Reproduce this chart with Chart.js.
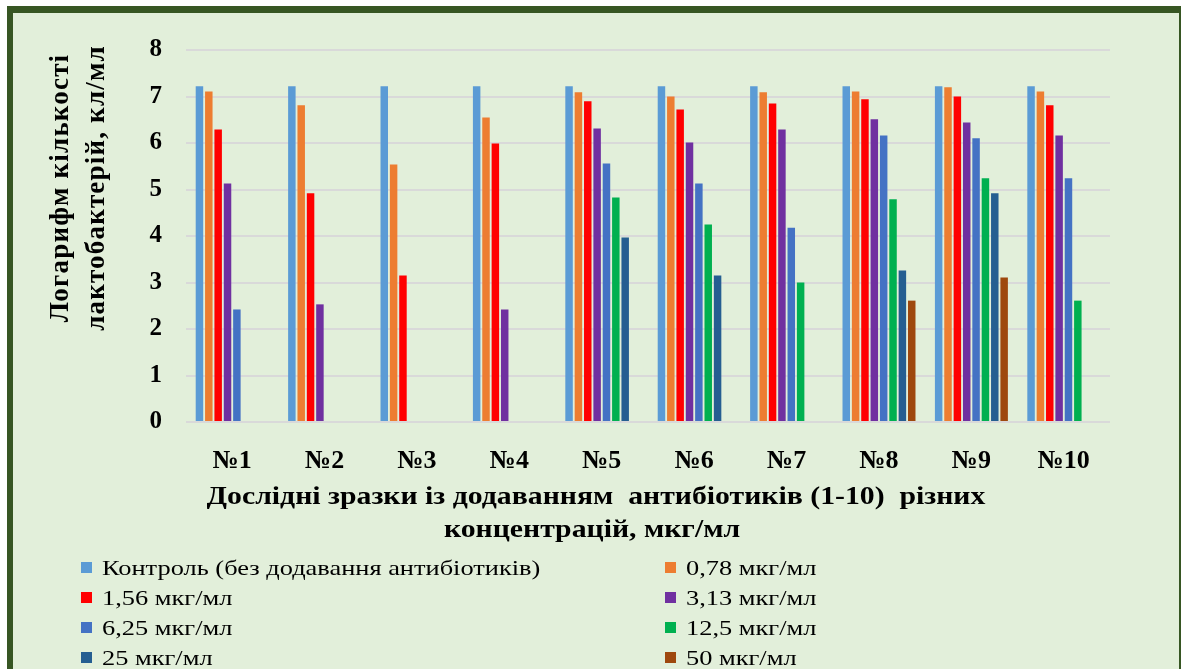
<!DOCTYPE html>
<html lang="uk">
<head>
<meta charset="utf-8">
<title>Логарифм кількості лактобактерій</title>
<script src="https://cdn.jsdelivr.net/npm/chart.js@4.4.1/dist/chart.umd.min.js"></script>
<style>
  html, body { margin: 0; padding: 0; background: #fff; }
  body { width: 1181px; height: 669px; position: relative; overflow: hidden; font-family: "Liberation Serif", "Times New Roman", serif; }
  .frame {
    position: absolute; left: 7px; top: 6px; width: 1166px; height: 700px;
    background: #E2EFDA;
    border-left: 6px solid #375623; border-top: 7px solid #375623; border-right: 2px solid #375623;
  }
  #chartBox { position: absolute; left: 0; top: 0; width: 1181px; height: 669px; }
  .ytitle {
    position: absolute; font-weight: bold; font-size: 27px; letter-spacing: 1.2px; color: #000; white-space: nowrap;
    transform: translate(-50%, -50%) rotate(-90deg);
  }
  .xtitle {
    position: absolute; font-weight: bold; font-size: 25px; color: #000; white-space: pre;
    transform: translate(-50%, -50%) scaleX(1.19);
  }
  .legend-item { position: absolute; font-size: 22px; color: #000; white-space: nowrap; height: 24px; line-height: 24px; }
  .legend-item i { position: absolute; left: 0; top: 6px; width: 11px; height: 11px; }
  .legend-item span { position: absolute; left: 21px; top: 0; transform-origin: 0 50%; transform: scaleX(1.2); }
</style>
</head>
<body>
<div class="frame"></div>
<div id="chartBox"><canvas id="bacteriaChart" width="1181" height="669"></canvas></div>

<div class="ytitle" style="left:59px; top:188px;">Логарифм кількості</div>
<div class="ytitle" style="left:95px; top:188px;">лактобактерій, кл/мл</div>

<div class="xtitle" style="left:596px; top:496px;">Дослідні зразки із додаванням  антибіотиків (1-10)  різних</div>
<div class="xtitle" style="left:592px; top:529px;">концентрацій, мкг/мл</div>

<div id="legend"></div>

<script>
// зразки №1–№10
const samples = ['№1', '№2', '№3', '№4', '№5', '№6', '№7', '№8', '№9', '№10'];
const yTicks = [0, 1, 2, 3, 4, 5, 6, 7, 8];

const seriesNames = [
    'Контроль (без додавання антибіотиків)',
    '0,78 мкг/мл',
    '1,56 мкг/мл',
    '3,13 мкг/мл',
    '6,25 мкг/мл',
    '12,5 мкг/мл',
    '25 мкг/мл',
    '50 мкг/мл'
];
const seriesColors = ['#5B9BD5', '#ED7D31', '#FF0000', '#7030A0', '#4472C4', '#00B050', '#255E91', '#9E480E'];

// lg КУО/мл для кожної концентрації (null — росту немає)
const control = [7.22, 7.22, 7.22, 7.22, 7.22, 7.22, 7.22, 7.22, 7.22, 7.22];
const conc078 = [7.11, 6.81, 5.54, 6.55, 7.09, 7.00, 7.09, 7.11, 7.20, 7.11];
const conc156 = [6.29, 4.92, 3.15, 5.99, 6.90, 6.72, 6.85, 6.94, 7.00, 6.81];
const conc313 = [5.13, 2.53, null, 2.42, 6.31, 6.01, 6.29, 6.51, 6.44, 6.16];
const conc625 = [2.42, null, null, null, 5.56, 5.13, 4.18, 6.16, 6.10, 5.24];
const conc125 = [null, null, null, null, 4.83, 4.25, 3.00, 4.79, 5.24, 2.61];
const conc25  = [null, null, null, null, 3.97, 3.15, null, 3.26, 4.92, null];
const conc50  = [null, null, null, null, null, null, null, 2.61, 3.11, null];

const seriesValues = [control, conc078, conc156, conc313, conc625, conc125, conc25, conc50];

const datasets = seriesValues.map((values, i) => ({
    label: seriesNames[i],
    data: values,
    backgroundColor: seriesColors[i],
    borderWidth: 0,
    categoryPercentage: 0.81,
    barPercentage: 0.8
}));

// легенда у дві колонки
const legendBox = document.getElementById('legend');
seriesNames.forEach((name, i) => {
    const col = i % 2;
    const row = Math.floor(i / 2);
    const item = document.createElement('div');
    item.className = 'legend-item';
    item.style.left = (col === 0 ? 81 : 665) + 'px';
    item.style.top = (556 + row * 30) + 'px';
    item.innerHTML = `<i style="background:${seriesColors[i]}"></i><span>${name}</span>`;
    legendBox.appendChild(item);
});

const ctx = document.getElementById('bacteriaChart').getContext('2d');

new Chart(ctx, {
    type: 'bar',
    data: {
        labels: samples,
        datasets: datasets
    },
    options: {
        responsive: false,
        animation: false,
        layout: {
            padding: { top: 50, right: 71, bottom: 187, left: 0 }
        },
        scales: {
            x: {
                grid: { display: false },
                border: { display: false },
                ticks: {
                    color: '#000',
                    padding: 16,
                    maxRotation: 0,
                    font: { family: 'Liberation Serif', size: 26, weight: 'bold' }
                },
                afterFit: (scale) => { scale.height = 60; }
            },
            y: {
                min: 0,
                max: 8,
                afterBuildTicks: (scale) => { scale.ticks = yTicks.map(v => ({ value: v })); },
                grid: { color: '#D9D9D9', lineWidth: 2, drawTicks: false },
                border: { display: false },
                ticks: {
                    color: '#000',
                    padding: 24,
                    font: { family: 'Liberation Serif', size: 25, weight: 'bold' }
                },
                afterFit: (scale) => { scale.width = 186; }
            }
        },
        plugins: {
            legend: { display: false },
            tooltip: { enabled: false }
        }
    }
});
</script>
</body>
</html>
